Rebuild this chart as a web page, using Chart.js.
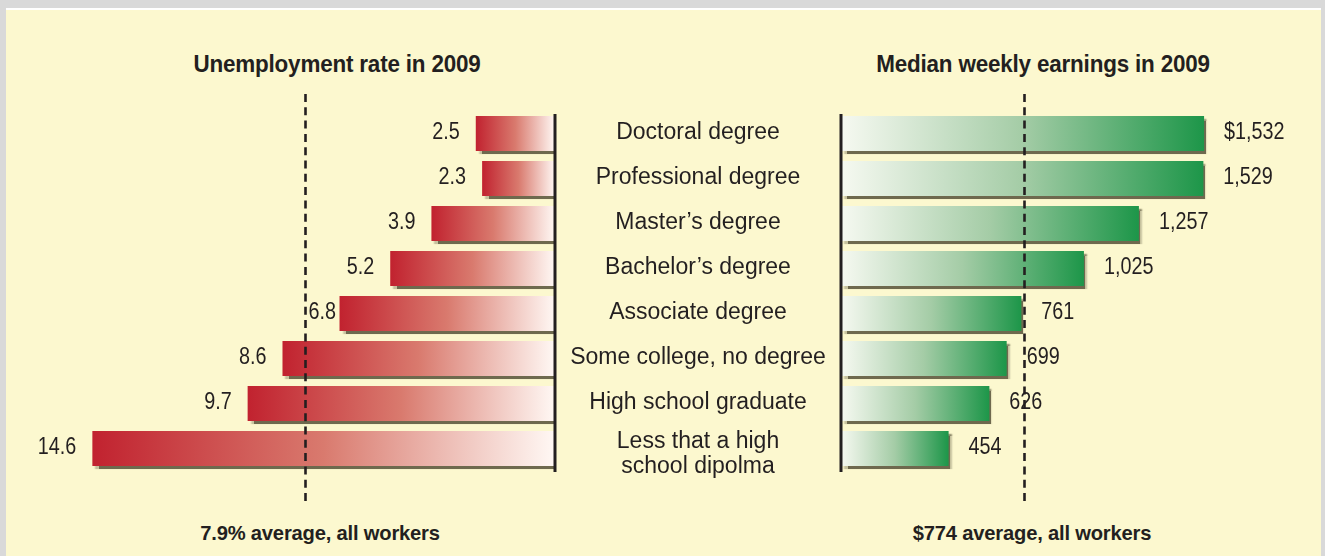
<!DOCTYPE html>
<html>
<head>
<meta charset="utf-8">
<script src="https://cdn.jsdelivr.net/npm/chart.js@4.4.1/dist/chart.umd.min.js"></script>
<style>
html, body { margin: 0; padding: 0; }
body { width: 1325px; height: 556px; background: #d9d9d9; position: relative; overflow: hidden;
       font-family: "Liberation Sans", Arial, sans-serif; color: #231f20; }
#panel { position: absolute; left: 6px; top: 8px; right: 4px; bottom: 0; background: #fcf8cf; border-top: 2px solid #fff; }
canvas { position: absolute; top: 0; }
.hd { position: absolute; font-family: "Liberation Sans", Arial, sans-serif; font-weight: bold;
      white-space: nowrap; letter-spacing: -0.2px; }
.title { font-size: 24px; line-height: 24px; top: 52px; transform: translateX(-50%) scaleX(0.935); }
.foot { font-size: 21px; line-height: 21px; top: 522px; transform: translateX(-50%) scaleX(0.96); }
</style>
</head>
<body>
<div id="panel"></div>
<div class="hd title" style="left:337px;">Unemployment rate in 2009</div>
<div class="hd title" style="left:1043px;">Median weekly earnings in 2009</div>
<div class="hd foot" style="left:320px;">7.9% average, all workers</div>
<div class="hd foot" style="left:1032px;">$774 average, all workers</div>
<canvas id="rateChart" width="560" height="556" style="left:0px;"></canvas>
<canvas id="payChart" width="765" height="556" style="left:560px;"></canvas>
<script>
var categories = ['Doctoral degree', 'Professional degree', 'Master\u2019s degree', 'Bachelor\u2019s degree',
    'Associate degree', 'Some college, no degree', 'High school graduate', ['Less that a high', 'school dipolma']];
var unemploymentRate = [2.5, 2.3, 3.9, 5.2, 6.8, 8.6, 9.7, 14.6];
var weeklyEarnings = [1532, 1529, 1257, 1025, 761, 699, 626, 454];
var rateLabels = ['2.5', '2.3', '3.9', '5.2', '6.8', '8.6', '9.7', '14.6'];
var earningsLabels = ['$1,532', '1,529', '1,257', '1,025', '761', '699', '626', '454'];
var averageRate = 7.9;
var averageEarnings = 774;

var ink = '#231f20';
var valueFont = '23px "Liberation Sans", Arial, sans-serif';
var valueSqueeze = 0.86;

// gradient runs from the axis (pale) to the bar end (strong colour)
function barGradient(stops){
    return function(ctx){
        var xs = ctx.chart.scales.x;
        if (!xs || ctx.type !== 'data') return stops[2];
        var x0 = xs.getPixelForValue(0), x1 = xs.getPixelForValue(ctx.raw);
        if (!isFinite(x0) || !isFinite(x1) || x0 === x1) return stops[2];
        var g = ctx.chart.ctx.createLinearGradient(x0, 0, x1, 0);
        g.addColorStop(0, stops[0]);
        g.addColorStop(0.5, stops[1]);
        g.addColorStop(1, stops[2]);
        return g;
    };
}

var shadowPlugin = {
    id: 'barShadow',
    beforeDatasetsDraw: function(chart){
        var c = chart.ctx;
        c.save();
        c.shadowColor = 'rgba(85, 80, 55, 0.85)';
        c.shadowOffsetX = 3;
        c.shadowOffsetY = 3;
        c.shadowBlur = 1.5;
    },
    afterDatasetsDraw: function(chart){ chart.ctx.restore(); }
};

function squeezedText(c, text, x, y, align){
    c.save();
    c.translate(x, y);
    c.scale(valueSqueeze, 1);
    c.textAlign = align;
    c.fillText(text, 0, 0);
    c.restore();
}

function decorPlugin(average, labels, side){
    return {
        id: 'decor',
        afterDatasetsDraw: function(chart){
            var c = chart.ctx, xs = chart.scales.x, area = chart.chartArea;
            var meta = chart.getDatasetMeta(0);
            c.save();
            // axis line at zero
            var x0 = xs.getPixelForValue(0);
            c.strokeStyle = ink;
            c.lineWidth = 3;
            c.beginPath();
            c.moveTo(x0, area.top + 3);
            c.lineTo(x0, area.bottom + 1);
            c.stroke();
            // dashed average line
            var xa = Math.round(xs.getPixelForValue(average)) + 0.5;
            c.lineWidth = 2.6;
            c.setLineDash([8, 5.3]);
            c.beginPath();
            c.moveTo(xa, area.top - 17);
            c.lineTo(xa, area.bottom + 30);
            c.stroke();
            c.setLineDash([]);
            // value labels
            c.font = valueFont;
            c.fillStyle = ink;
            c.textBaseline = 'middle';
            meta.data.forEach(function(bar, i){
                var w = c.measureText(labels[i]).width * valueSqueeze;
                if (side === 'left') {
                    var right = bar.x - 16;
                    // keep the label clear of the dashed line when it fits next to the bar
                    if (right - w < xa && right > xa && bar.x - xa > w + 6) {
                        squeezedText(c, labels[i], xa + 3, bar.y - 1, 'left');
                    } else {
                        squeezedText(c, labels[i], right, bar.y - 1, 'right');
                    }
                } else {
                    squeezedText(c, labels[i], bar.x + 20, bar.y - 1, 'left');
                }
            });
            c.restore();
        }
    };
}

var categoryPlugin = {
    id: 'categories',
    afterDraw: function(chart){
        var c = chart.ctx, ys = chart.scales.y;
        var x = chart.chartArea.left - 143;
        c.save();
        c.font = '23px "Liberation Sans", Arial, sans-serif';
        c.fillStyle = ink;
        c.textAlign = 'center';
        c.textBaseline = 'middle';
        categories.forEach(function(lab, i){
            var y = ys.getPixelForValue(i);
            if (Array.isArray(lab)) {
                for (var j = 0; j < lab.length; j++) c.fillText(lab[j], x, y - 7 + j * 25);
            } else {
                c.fillText(lab, x, y - 1);
            }
        });
        c.restore();
    }
};

function baseOptions(padding, max, reverse){
    return {
        indexAxis: 'y',
        responsive: false,
        animation: false,
        devicePixelRatio: 1,
        layout: { padding: padding },
        scales: {
            x: { display: false, min: 0, max: max, reverse: reverse },
            y: { display: false }
        },
        plugins: { legend: { display: false }, tooltip: { enabled: false } }
    };
}

new Chart(document.getElementById('rateChart').getContext('2d'), {
    type: 'bar',
    data: {
        labels: categories,
        datasets: [{
            data: unemploymentRate,
            backgroundColor: barGradient(['#fff8f4', '#d97a6e', '#c1222f']),
            borderWidth: 0,
            barPercentage: 0.78,
            categoryPercentage: 1
        }]
    },
    options: baseOptions({ left: 48, right: 5, top: 111, bottom: 85 }, 16, true),
    plugins: [shadowPlugin, decorPlugin(averageRate, rateLabels, 'left')]
});

new Chart(document.getElementById('payChart').getContext('2d'), {
    type: 'bar',
    data: {
        labels: categories,
        datasets: [{
            data: weeklyEarnings,
            backgroundColor: barGradient(['#f6f9f1', '#a4cca6', '#1d9649']),
            borderWidth: 0,
            barPercentage: 0.78,
            categoryPercentage: 1
        }]
    },
    options: baseOptions({ left: 281, right: 57.4, top: 111, bottom: 85 }, 1800, false),
    plugins: [shadowPlugin, decorPlugin(averageEarnings, earningsLabels, 'right'), categoryPlugin]
});
</script>
</body>
</html>
